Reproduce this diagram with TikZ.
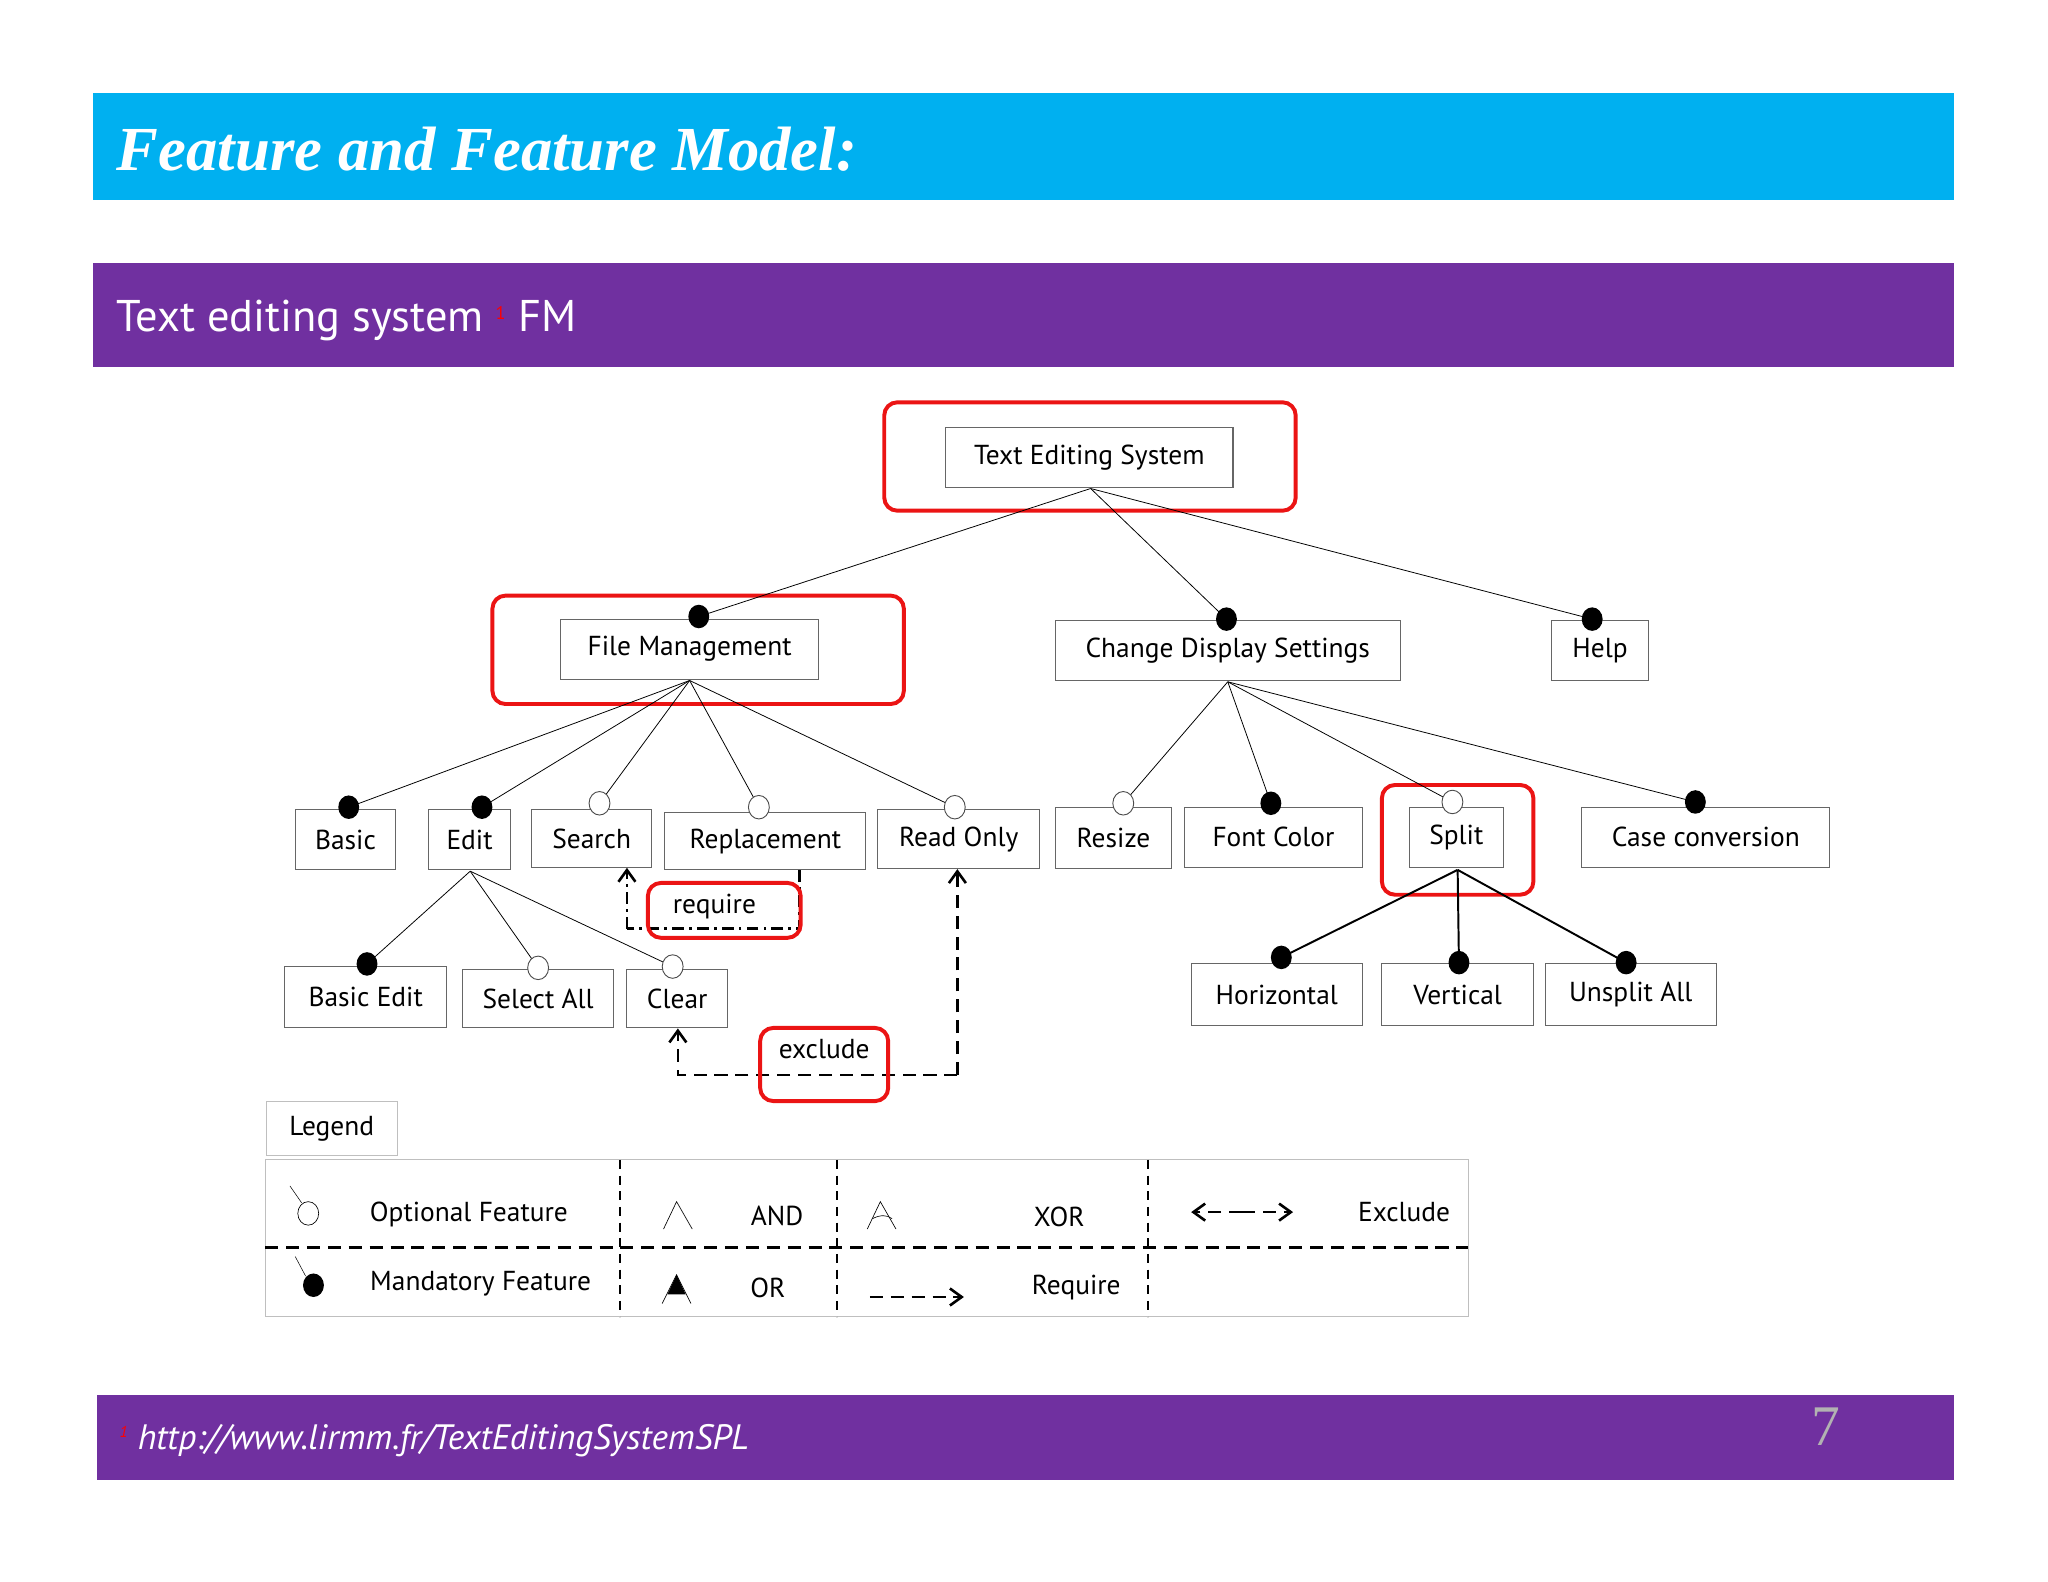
\documentclass[tikz,border=0pt]{standalone}
\usepackage{fontspec}
\setmainfont{PT Sans}
\newfontfamily\titlefont{Liberation Serif}
\usetikzlibrary{arrows.meta}
\definecolor{cyanbar}{RGB}{0,176,240}
\definecolor{purplebar}{RGB}{112,48,160}
\definecolor{redhl}{RGB}{235,20,20}
\begin{document}
\begin{tikzpicture}[x=1pt,y=-1pt,
  feat/.style={draw=black!60,line width=0.8pt,minimum height=46pt,inner sep=0pt,font=\fontsize{21}{24}\selectfont},
  hl/.style={draw=redhl,line width=3pt,rounded corners=10pt},
  edge/.style={line width=0.6pt},
  rel/.style={line width=2pt,dash pattern=on 10pt off 6pt},
  oarrow/.style={-{Straight Barb[length=9pt,width=13pt,line width=2pt]}},
  lgtxt/.style={font=\fontsize{21}{24}\selectfont,inner sep=0pt}
]
\useasboundingbox (0,0) rectangle (1568,1211);
% bars
\fill[cyanbar] (71,71) rectangle (1496,153);
\node[anchor=west,text=white,font=\titlefont\bfseries\itshape\fontsize{48}{54}\selectfont] (title) at (86,114) {Feature and Feature Model:};
\fill[purplebar] (71,201) rectangle (1496,281);
\node[anchor=west,text=white,font=\fontsize{34}{38}\selectfont] (sub) at (86,245) {Text editing system \textsuperscript{\textcolor{red}{\fontsize{14}{14}\selectfont 1}} FM};
\fill[purplebar] (74,1068) rectangle (1496,1133);
\node[anchor=west,text=white,font=\itshape\fontsize{27}{30}\selectfont] (url) at (88,1103) {\textsuperscript{\textcolor{red}{\fontsize{12}{12}\selectfont 1}} http://www.lirmm.fr/TextEditingSystemSPL};
\node[text=gray!60,font=\titlefont\fontsize{44}{50}\selectfont] (pg) at (1398,1092) {7};

% feature boxes
\node[feat,minimum width=220pt] (tes) at (834,350) {Text Editing System};
\node[feat,minimum width=198pt] (fm) at (528,497) {File Management};
\node[feat,minimum width=264pt] (cds) at (940,498) {Change Display Settings};
\node[feat,minimum width=74pt] (help) at (1225,498) {Help};
\node[feat,minimum width=77pt] (basic) at (264.5,643) {Basic};
\node[feat,minimum width=63pt] (edit) at (359.5,643) {Edit};
\node[feat,minimum width=92pt,minimum height=44pt] (search) at (453,642) {Search};
\node[feat,minimum width=154pt,minimum height=44pt] (repl) at (586,644) {Replacement};
\node[feat,minimum width=124pt,minimum height=45pt] (ro) at (734,642.5) {Read Only};
\node[feat,minimum width=89pt,minimum height=47pt] (resize) at (852.5,641.5) {Resize};
\node[feat,minimum width=136pt] (fc) at (975,641) {Font Color};
\node[feat,minimum width=72pt] (split) at (1115,641) {Split};
\node[feat,minimum width=190pt] (case) at (1306,641) {Case conversion};
\node[feat,minimum width=124pt,minimum height=47pt] (bedit) at (280,763.5) {Basic Edit};
\node[feat,minimum width=116pt,minimum height=45pt] (sall) at (412,764.5) {Select All};
\node[feat,minimum width=77pt,minimum height=45pt] (clear) at (518.5,764.5) {Clear};
\node[feat,minimum width=131pt,minimum height=47pt] (hor) at (977.5,761.5) {Horizontal};
\node[feat,minimum width=116pt,minimum height=47pt] (ver) at (1116,761.5) {Vertical};
\node[feat,minimum width=131pt,minimum height=47pt] (uns) at (1248.5,761.5) {Unsplit All};

% highlight boxes
\draw[hl] (677,308) rectangle (992,391);
\draw[hl] (377,456) rectangle (692,539);
\draw[hl] (1058,601) rectangle (1174,685);

% anchor coordinates
\coordinate (tesb) at (835,374);
\coordinate (fmb) at (528,521);
\coordinate (cdsb) at (940,522);
\coordinate (editb) at (360,667);
\coordinate (splitb) at (1116,666);

\foreach \n/\x/\y in {dfm/535/472, dcds/939/474, dhelp/1219/474, dbasic/267/618, dedit/369/618, dfc/973/615, dcase/1298/614, dbedit/281/738, dhor/981/733, dver/1117/737, duns/1245/737}
  \coordinate (\n) at (\x,\y);
\foreach \n/\x/\y in {osearch/459/615, orepl/581/618, oro/731/618, oresize/860/615, osplit/1112/614, osall/412/741, oclear/515/740}
  \coordinate (\n) at (\x,\y);

% edges
\foreach \t in {dfm,dcds,dhelp} \draw[edge] (tesb) -- (\t);
\foreach \t in {dbasic,dedit,osearch,orepl,oro} \draw[edge] (fmb) -- (\t);
\foreach \t in {oresize,dfc,osplit,dcase} \draw[edge] (cdsb) -- (\t);
\foreach \t in {dbedit,osall,oclear} \draw[edge] (editb) -- (\t);
\foreach \t in {dhor,dver,duns} \draw[line width=1.5pt] (splitb) -- (\t);

\foreach \n in {dfm,dcds,dhelp,dbasic,dedit,dfc,dcase,dbedit,dhor,dver,duns}
  \fill[black] (\n) ellipse [x radius=8pt,y radius=9pt];
\foreach \n in {osearch,orepl,oro,oresize,osplit,osall,oclear}
  \filldraw[fill=white,draw=black!70,line width=0.7pt] (\n) ellipse [x radius=8pt,y radius=9pt];

% require
\coordinate (rq1) at (612,711);
\coordinate (rq2) at (480,711);
\draw[line width=2pt,dash pattern=on 9pt off 4pt on 2pt off 4pt] (repl.south -| 612,0) -- (rq1) -- (rq2);
\draw[line width=2pt,dash pattern=on 9pt off 4pt on 2pt off 4pt,oarrow] (rq2) -- (search.south -| 480,0);
\draw[hl] (496,676) rectangle (613,718);
\node[lgtxt] (reqlbl) at (547,694) {require};

% exclude
\coordinate (ex1) at (733,823);
\coordinate (ex2) at (519,823);
\draw[rel,oarrow] (ex1) -- (ro.south -| 733,0);
\draw[rel,oarrow] (ex1) -- (ex2) -- (clear.south -| 519,0);
\draw[hl] (582,787) rectangle (680,843);
\node[lgtxt] (exlbl) at (631,803) {exclude};

% legend
\node[draw=black!25,line width=0.8pt,minimum width=100pt,minimum height=42pt,font=\fontsize{21}{24}\selectfont,inner sep=0pt] (legend) at (254,864) {Legend};
\draw[black!25,line width=0.8pt] (203,888) rectangle (1124,1008);
\draw[rel] (203,955) -- (1124,955);
\foreach \x in {475,641,879} \draw[line width=1.5pt,dash pattern=on 7pt off 5pt] (\x,888) -- (\x,1008);

\draw[line width=0.4pt] (222,908) -- (231,921);
\draw[line width=0.5pt,fill=white] (236,929) ellipse [x radius=8pt,y radius=9pt];
\node[lgtxt] (lopt) at (359,930) {Optional Feature};
\draw[line width=0.4pt] (226,962) -- (234,977);
\fill (240,984) ellipse [x radius=8pt,y radius=9pt];
\node[lgtxt] (lman) at (368,983) {Mandatory Feature};

\draw[line width=0.5pt] (508,941) -- (518,920) -- (530,941);
\node[lgtxt] (land) at (595,931) {AND};
\draw[line width=0.5pt] (507,998) -- (518,976) -- (529,998);
\fill (511,991) -- (518,976) -- (525,991) -- cycle;
\node[lgtxt] (lor) at (588,986) {OR};

\draw[line width=0.5pt] (664,941) -- (674,920) -- (686,941);
\draw[line width=0.5pt] (668,933) .. controls (674,930) and (679,930) .. (683,933);
\node[lgtxt] (lxor) at (811,932) {XOR};
\coordinate (lr1) at (666,993);
\coordinate (lr2) at (738,993);
\draw[rel,oarrow] (lr1) -- (lr2);
\node[lgtxt] (lreq) at (824,986) {Require};
\coordinate (le1) at (912,928);
\coordinate (le2) at (990,928);
\coordinate (lem) at (951,928);
\draw[rel,oarrow] (lem) -- (le1);
\draw[rel,oarrow] (lem) -- (le2);
\node[lgtxt] (lexc) at (1075,928) {Exclude};
\end{tikzpicture}
\end{document}
